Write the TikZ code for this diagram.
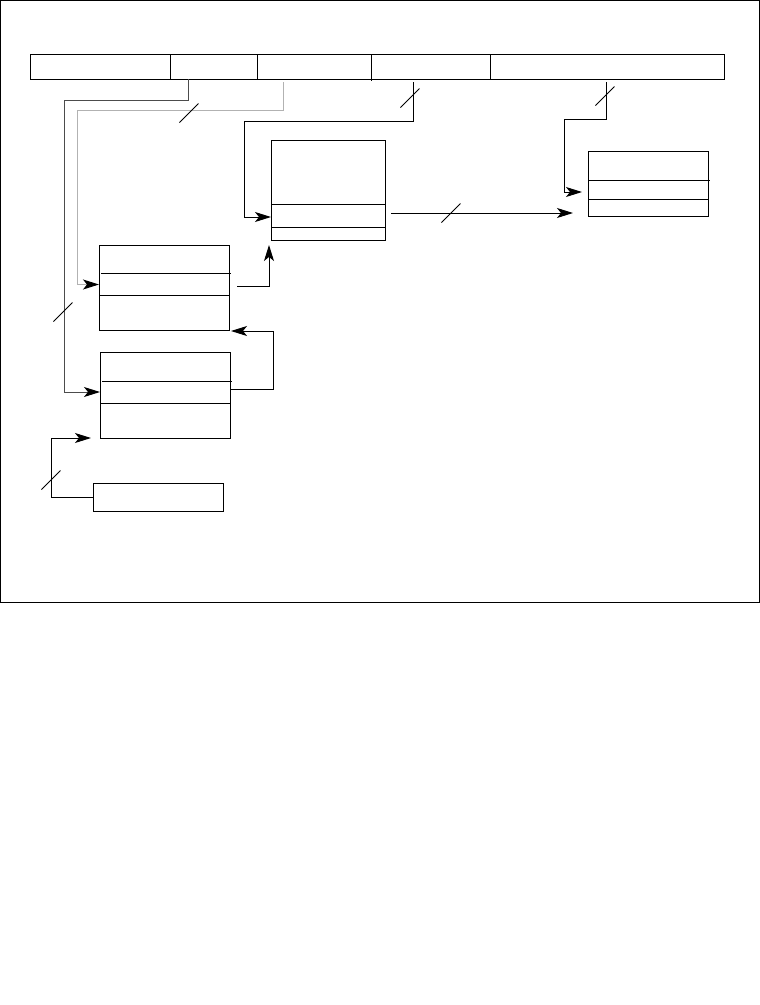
\documentclass[tikz,border=0pt]{standalone}
\usepackage{tikz}
\usetikzlibrary{arrows.meta, positioning, calc}
\tikzset{
    seg/.style={rectangle, draw, inner sep=0pt, outer sep=0pt, minimum height=25pt, line width=1pt},
    box/.style={rectangle, draw, inner sep=0pt, outer sep=0pt, line width=1pt},
    arrow/.style={-{Stealth[length=16pt, width=10pt, inset=4pt, color=black]}, line width=1pt},
    greyarrow/.style={arrow, draw=black!30},
    darkarrow/.style={arrow, draw=black!70},
    slash/.pic={\draw[line width=0.9pt] (-9.5,9.5) -- (9.5,-9.5);},
}

\begin{document}
\begin{tikzpicture}[x=1pt, y=-1pt]
    \useasboundingbox (0,0) rectangle (760,1005);
    \draw[line width=1pt] (0.5,0.5) rectangle (759,602);
    % top bar
    \node[seg, minimum width=140pt, anchor=north west] (seg1) at (30,54) {};
    \node[seg, minimum width=87pt, right=0pt of seg1] (seg2) {};
    \node[seg, minimum width=114pt, right=0pt of seg2] (seg3) {};
    \node[seg, minimum width=119pt, right=0pt of seg3] (seg4) {};
    \node[seg, minimum width=234pt, right=0pt of seg4] (seg5) {};
    \draw[line width=1pt] (seg4.south west) -- ++(0,2);
    % boxes
    \node[box, minimum width=114pt, minimum height=100pt, anchor=north west] (midbox) at (271,140) {};
    \node[box, minimum width=120pt, minimum height=65pt, anchor=north west] (rbox) at (588,151) {};
    \node[box, minimum width=130pt, minimum height=85pt, anchor=north west] (lbox1) at (99,245) {};
    \node[box, minimum width=130pt, minimum height=86pt, anchor=north west] (lbox2) at (100,352) {};
    \node[box, minimum width=130pt, minimum height=28pt, anchor=north west] (sbox) at (93,483) {};
    % dividers
    \draw[line width=1pt] ([yshift=-64pt]midbox.north west) -- ([yshift=-64pt]midbox.north east);
    \draw[line width=1pt] ([yshift=-87pt]midbox.north west) -- ([yshift=-87pt]midbox.north east);
    \draw[line width=1pt] ([yshift=-29pt]rbox.north west) -- ([yshift=-29pt,xshift=2pt]rbox.north east);
    \draw[line width=1pt] ([yshift=-48pt]rbox.north west) -- ([yshift=-48pt]rbox.north east);
    \draw[line width=1pt] ([yshift=-28pt,xshift=2pt]lbox1.north west) -- ([yshift=-28pt,xshift=2pt]lbox1.north east);
    \draw[line width=1pt] ([yshift=-50pt]lbox1.north west) -- ([yshift=-50pt]lbox1.north east);
    \draw[line width=1pt] ([yshift=-29pt,xshift=2pt]lbox2.north west) -- ([yshift=-29pt,xshift=2pt]lbox2.north east);
    \draw[line width=1pt] ([yshift=-51pt]lbox2.north west) -- ([yshift=-51pt]lbox2.north east);
    % connectors
    \draw[darkarrow] ([xshift=18pt]seg2.south west) |- ++(-124,21) |- ([yshift=3pt]lbox2.west);
    \draw[greyarrow] ([xshift=26pt,yshift=-3pt]seg3.south west) |- ++(-206,28) |- ([yshift=3pt]lbox1.west);
    \draw[arrow] ([xshift=42pt,yshift=-3pt]seg4.south west) |- ++(-169,39) |- ([yshift=-27pt]midbox.west);
    \draw[arrow] ([xshift=116pt,yshift=-3pt]seg5.south west) |- ++(-42,37) |- ([xshift=-6pt,yshift=-8.5pt]rbox.west);
    \draw[arrow] ([xshift=6pt,yshift=-23pt]midbox.east) -- ([xshift=-15pt,yshift=-29.5pt]rbox.west);
    \draw[arrow] ([xshift=8pt,yshift=1.5pt]lbox1.east) -| ([xshift=-2pt,yshift=-5pt]midbox.south west);
    \draw[arrow] ([xshift=1pt,yshift=6pt]lbox2.east) -- ++(42,0) |- ([xshift=2pt,yshift=-1pt]lbox1.south east);
    \draw[arrow] (sbox.west) -- ++(-42,0) |- ([xshift=-9pt]lbox2.south west);
    % slashes
    \path (189,113) pic {slash};
    \path (410,98) pic {slash};
    \path (605,96) pic {slash};
    \path (451,213) pic {slash};
    \path (63,312) pic {slash};
    \path (51,480) pic {slash};
\end{tikzpicture}
\end{document}
